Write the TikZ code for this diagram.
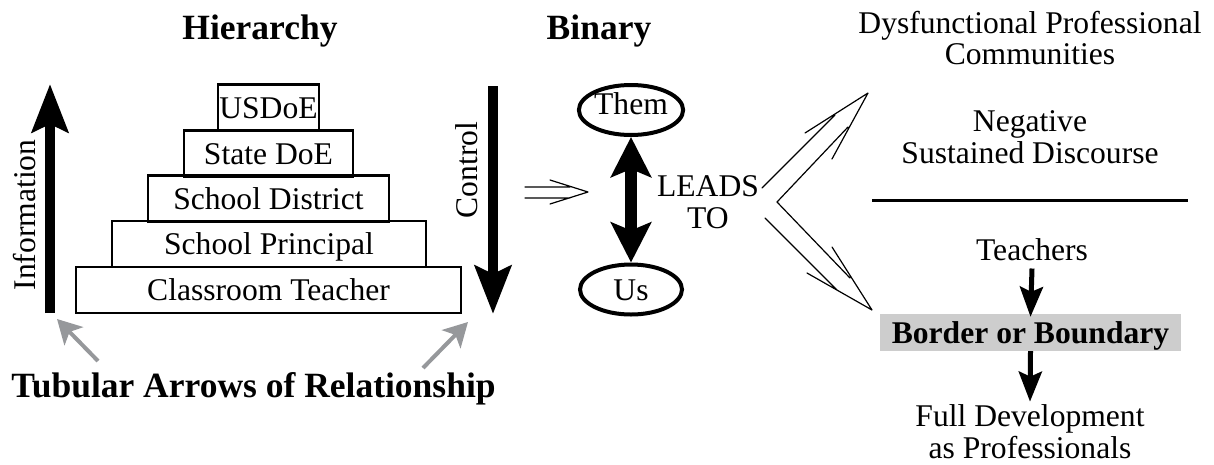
\documentclass[tikz,border=0pt]{standalone}
\usepackage{fontspec}
\setmainfont{Liberation Serif}
\usetikzlibrary{arrows.meta,shapes.geometric}
\definecolor{arrowgray}{RGB}{150,152,155}
\definecolor{boxgray}{RGB}{205,205,205}
\begin{document}
\begin{tikzpicture}[x=1pt,y=-1pt,
  txt/.style={font=\fontsize{31.6}{31.5}\selectfont, inner sep=0pt, align=center},
  ttl/.style={font=\fontsize{35.5}{36}\selectfont\bfseries, inner sep=0pt},
  tier/.style={draw, line width=2.5pt, inner sep=0pt, minimum height=46pt,
    text height=21pt, text depth=0pt, font=\fontsize{31.6}{32}\selectfont},
  oval/.style={ellipse, draw, line width=4pt, minimum width=102pt, minimum height=50pt,
    inner sep=0pt, text height=21pt, text depth=0pt, font=\fontsize{31.6}{32}\selectfont},
  bigarrow/.style={line width=10pt, -{Stealth[length=48pt,width=36pt,inset=8pt]}},
  dblarrow/.style={line width=12pt, {Stealth[length=40pt,width=40pt,inset=8pt]}-{Stealth[length=40pt,width=40pt,inset=8pt]}},
  smallarrow/.style={line width=5pt, -{Stealth[length=30pt,width=23pt,inset=5pt]}},
  grayarrow/.style={draw=arrowgray, line width=4pt, -{Stealth[length=24pt,width=26pt,inset=6pt]}},
  thinline/.style={line width=1.2pt, line cap=round, line join=round}
]
\useasboundingbox (0,0) rectangle (1214,464);

% titles
\node[ttl, anchor=base] (hier) at (260,39) {Hierarchy};
\node[ttl, anchor=base] (bin) at (599,39) {Binary};
\node[ttl, anchor=base] (tub) at (253.5,397) {Tubular Arrows of Relationship};

% pyramid
\node[tier, minimum width=385pt] (ct) at (268.5,290) {Classroom Teacher};
\node[tier, minimum width=314pt] (sp) at (269,244) {School Principal};
\node[tier, minimum width=241pt] (sd) at (268.5,198.5) {School District};
\node[tier, minimum width=169pt] (sdoe) at (268.5,153.5) {State DoE};
\node[tier, minimum width=101pt] (usdoe) at (268.5,107.5) {USDoE};

% information / control arrows
\coordinate (infoB) at (50,313);
\coordinate (infoT) at (50,84);
\draw[bigarrow] (infoB) -- (infoT);
\node[txt, rotate=90, anchor=base] (info) at (35,215) {Information};
\coordinate (ctrlT) at (493,86);
\coordinate (ctrlB) at (493,314);
\draw[bigarrow] (ctrlT) -- (ctrlB);
\node[txt, rotate=90, anchor=base] (ctrl) at (477,170) {Control};

% gray arrows
\coordinate (gL1) at (98,361);
\coordinate (gL2) at (57,319);
\coordinate (gR1) at (423,368);
\coordinate (gR2) at (468,322);
\draw[grayarrow] (gL1) -- (gL2);
\draw[grayarrow] (gR1) -- (gR2);

% binary
\node[oval, text depth=13pt] (them) at (631,110) {Them};
\node[oval] (us) at (631,289.5) {Us};
\draw[dblarrow] (them.south) -- (us.north);
\node[txt] (leads) at (708,202) {LEADS\\TO};

% left double-line arrow
\coordinate (a1) at (525,187);
\coordinate (a2) at (570,187);
\coordinate (a3) at (525,198);
\coordinate (a4) at (570,198);
\coordinate (ab1) at (550,180);
\coordinate (ab2) at (550,204);
\coordinate (atip) at (588,192);
\draw[thinline] (a1) -- (a2) (a3) -- (a4) (ab1) -- (atip) -- (ab2);

% branching double-line arrows
\coordinate (vtx) at (777,202);
\coordinate (uo1) at (762,188);
\coordinate (uo2) at (835,115);
\coordinate (ui2) at (848,127);
\coordinate (ub1) at (805,133);
\coordinate (ub2) at (832,159);
\coordinate (utip) at (868,93);
\draw[thinline] (uo1) -- (uo2) (vtx) -- (ui2) (ub1) -- (utip) -- (ub2);
\coordinate (lo1) at (765,218);
\coordinate (lo2) at (837,290);
\coordinate (li2) at (850,278);
\coordinate (lb1) at (832,247);
\coordinate (lb2) at (807,273);
\coordinate (ltip) at (872,310);
\draw[thinline] (lo1) -- (lo2) (vtx) -- (li2) (lb1) -- (ltip) -- (lb2);

% right column
\node[txt] (dys) at (1030,38) {Dysfunctional Professional\\Communities};
\node[txt] (neg) at (1030,137) {Negative\\Sustained Discourse};
\coordinate (r1) at (872,200);
\coordinate (r2) at (1188,200);
\draw[line width=3pt] (r1) -- (r2);
\node[txt, anchor=base] (teach) at (1032,260) {Teachers};
\node[fill=boxgray, minimum width=301pt, minimum height=37pt, inner sep=0pt,
  text height=21pt, text depth=0pt, font=\fontsize{31.6}{32}\selectfont\bfseries]
  (border) at (1030.5,332.5) {Border or Boundary};
\node[txt] (full) at (1030,431.7) {Full Development\\as Professionals};
\draw[smallarrow] ([yshift=-8pt]teach.south) -- ([yshift=-3pt]border.north);
\draw[smallarrow] (border.south) -- ([yshift=3pt]full.north);
\end{tikzpicture}
\end{document}
